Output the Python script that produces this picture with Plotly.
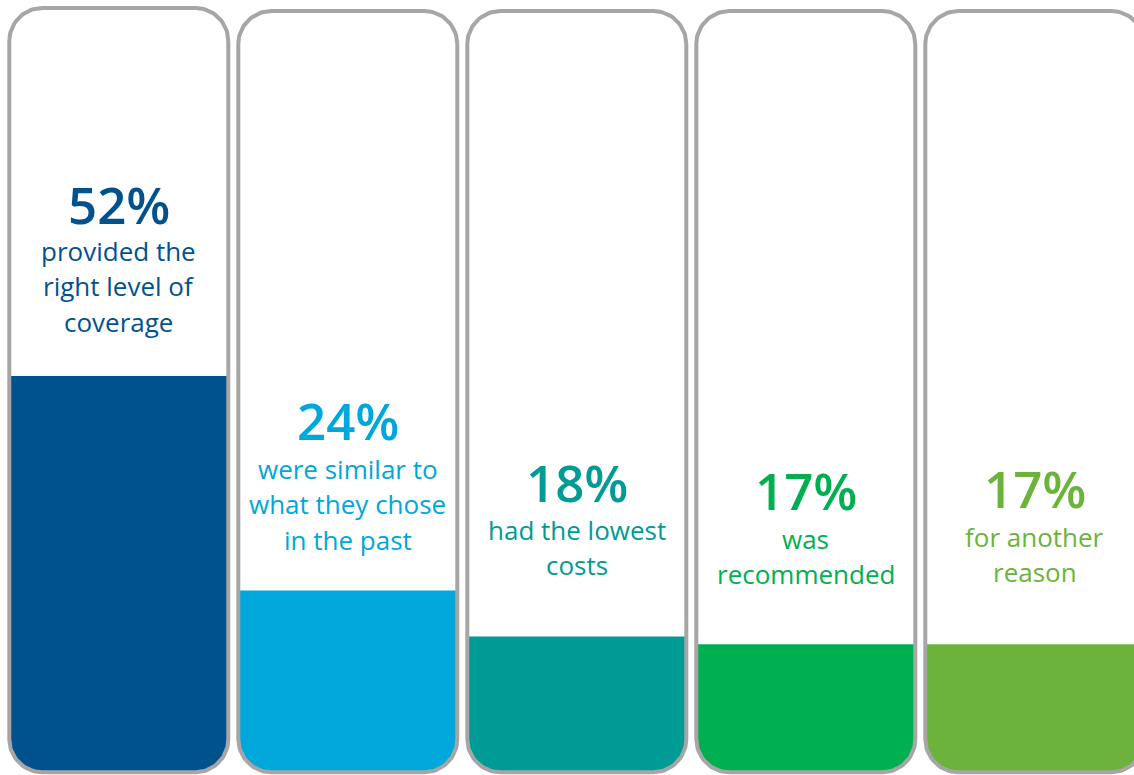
import plotly.graph_objects as go
import numpy as np

# ---- data ----
values = [52, 24, 18, 17, 17]
pct_labels = ["52%", "24%", "18%", "17%", "17%"]
label_lines = [
    ["provided the", "right level of", "coverage"],
    ["were similar to", "what they chose", "in the past"],
    ["had the lowest", "costs"],
    ["was", "recommended"],
    ["for another", "reason"],
]
colors = ["#00528F", "#00A7DA", "#009B95", "#00B050", "#6CB33B"]

# ---- layout constants (pixels) ----
W, H = 1134, 775
PITCH = 229.0          # px per category
X0_PX = 118.8          # px of first category centre
Y0_PX = 774.5          # px of value 0
S = 7.665              # px per percentage point
BOX_W = 219 / PITCH    # container width (stroke centre) in x units
R_PX = 33              # corner radius in px
BOX_BOTTOM = 0.3
box_tops = [100, 99.6, 99.6, 99.6, 99.6]
pct_px = [204, 420, 482, 490, 488]
line1_px = [251, 469, 530, 539, 537]
LINE_GAP = 35.3

x_range = [-X0_PX / PITCH, (W - X0_PX) / PITCH]
y_top = Y0_PX / S
y_range = [y_top - H / S, y_top]


def px_to_y(p):
    return (Y0_PX - p) / S


rx = R_PX / PITCH
ry = R_PX / S


def arc(cx, cy, a0, a1, n=24):
    t = np.linspace(a0, a1, n)
    return list(cx + rx * np.cos(t)), list(cy + ry * np.sin(t))


fig = go.Figure()

# filled part of each column: flat top at the value, rounded bottom corners
for i, (v, c) in enumerate(zip(values, colors)):
    l, r = i - BOX_W / 2, i + BOX_W / 2
    b = BOX_BOTTOM
    xs, ys = [r, l], [v, v]
    ax, ay = arc(l + rx, b + ry, np.pi, 1.5 * np.pi)
    xs += ax
    ys += ay
    ax, ay = arc(r - rx, b + ry, 1.5 * np.pi, 2 * np.pi)
    xs += ax
    ys += ay
    xs.append(r)
    ys.append(v)
    fig.add_trace(go.Scatter(x=xs, y=ys, mode="lines", fill="toself",
                             fillcolor=c, line=dict(width=0, color=c),
                             hoverinfo="skip"))

# container outlines (rounded rectangles)
for i, top in enumerate(box_tops):
    l, r = i - BOX_W / 2, i + BOX_W / 2
    b = BOX_BOTTOM
    xs, ys = [], []
    for cx, cy, a0, a1 in [
        (r - rx, top - ry, 0, np.pi / 2),
        (l + rx, top - ry, np.pi / 2, np.pi),
        (l + rx, b + ry, np.pi, 1.5 * np.pi),
        (r - rx, b + ry, 1.5 * np.pi, 2 * np.pi),
    ]:
        ax, ay = arc(cx, cy, a0, a1)
        xs += ax
        ys += ay
    xs.append(xs[0])
    ys.append(ys[0])
    fig.add_trace(go.Scatter(x=xs, y=ys, mode="lines",
                             line=dict(color="#A6A6A6", width=4),
                             hoverinfo="skip"))

FONT = "Open Sans"
ann = []
for i, (v, p, lines, c) in enumerate(zip(values, pct_labels, label_lines, colors)):
    ann.append(dict(x=i, y=px_to_y(pct_px[i]), text=p, showarrow=False,
                    xanchor="center", yanchor="middle",
                    font=dict(family=FONT, size=51, color=c, weight=600)))
    for k, t in enumerate(lines):
        ann.append(dict(x=i, y=px_to_y(line1_px[i] + k * LINE_GAP), text=t,
                        showarrow=False, xanchor="center", yanchor="middle",
                        font=dict(family=FONT, size=26, color=c)))

fig.update_layout(
    width=W, height=H,
    margin=dict(l=0, r=0, t=0, b=0),
    paper_bgcolor="white", plot_bgcolor="white",
    showlegend=False,
    xaxis=dict(range=x_range, visible=False, fixedrange=True),
    yaxis=dict(range=y_range, visible=False, fixedrange=True),
    annotations=ann,
)

fig.write_html("out.html")
